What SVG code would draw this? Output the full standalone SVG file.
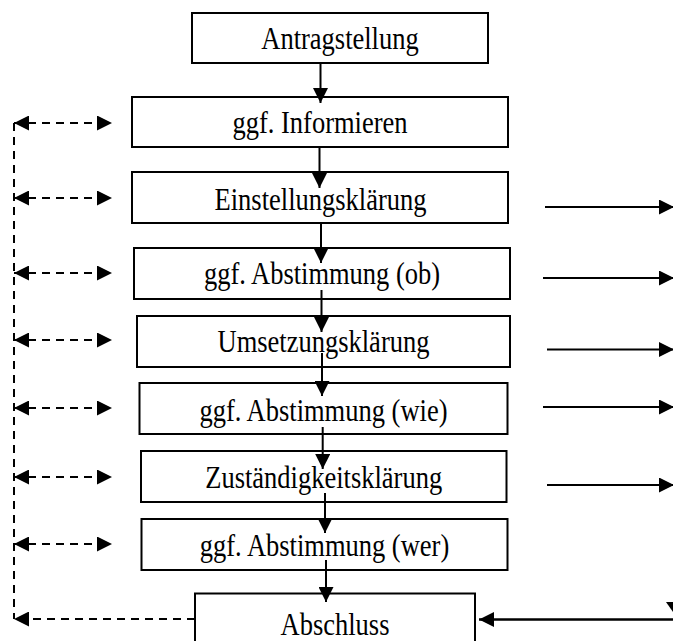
<svg xmlns="http://www.w3.org/2000/svg" width="673" height="641" viewBox="0 0 673 641">
  <style>
    .box { fill: #ffffff; stroke: #000000; stroke-width: 2; }
    text { font-family: 'Liberation Serif', 'Times New Roman', 'DejaVu Serif', serif; font-size: 26.5px; fill: #000000; text-anchor: middle; }
    .flow { stroke: #000000; stroke-width: 2; fill: none; marker-end: url(#head); }
    .out { stroke: #000000; stroke-width: 2; fill: none; marker-end: url(#head); }
    .dash { stroke: #000000; stroke-width: 2; fill: none; stroke-dasharray: 8 6; }
    .both { marker-start: url(#head); marker-end: url(#head); }
  </style>
  <defs>
    <marker id="head" markerUnits="userSpaceOnUse" markerWidth="15" markerHeight="15" refX="15" refY="7.5" orient="auto-start-reverse">
      <path d="M0,0 L15,7.5 L0,15 Z" fill="#000000"/>
    </marker>
  </defs>

  <!-- process steps (labels slightly stretched vertically) -->
  <g id="antragstellung">
    <rect class="box" x="192" y="13" width="296" height="50"/>
    <text transform="translate(340 48.5) scale(1 1.17)">Antragstellung</text>
  </g>
  <g id="informieren">
    <rect class="box" x="132" y="97" width="376" height="50"/>
    <text transform="translate(320 133) scale(1 1.17)">ggf. Informieren</text>
  </g>
  <g id="einstellungsklaerung">
    <rect class="box" x="132" y="172" width="376" height="51"/>
    <text transform="translate(320.5 210) scale(1 1.17)">Einstellungsklärung</text>
  </g>
  <g id="abstimmung-ob">
    <rect class="box" x="134" y="248" width="376" height="51"/>
    <text transform="translate(322 284) scale(1 1.17)">ggf. Abstimmung (ob)</text>
  </g>
  <g id="umsetzungsklaerung">
    <rect class="box" x="137" y="316" width="373" height="51"/>
    <text transform="translate(323.5 352) scale(1 1.17)">Umsetzungsklärung</text>
  </g>
  <g id="abstimmung-wie">
    <rect class="box" x="139.5" y="383" width="368" height="51"/>
    <text transform="translate(323.5 421) scale(1 1.17)">ggf. Abstimmung (wie)</text>
  </g>
  <g id="zustaendigkeitsklaerung">
    <rect class="box" x="141" y="451" width="365.5" height="51"/>
    <text transform="translate(323.7 488) scale(1 1.17)">Zuständigkeitsklärung</text>
  </g>
  <g id="abstimmung-wer">
    <rect class="box" x="141.5" y="519" width="366" height="51"/>
    <text transform="translate(324.5 556) scale(1 1.17)">ggf. Abstimmung (wer)</text>
  </g>
  <g id="abschluss">
    <rect class="box" x="195" y="593.5" width="280" height="60"/>
    <text transform="translate(335 634.5) scale(1 1.17)">Abschluss</text>
  </g>

  <!-- connectors -->
  <g id="connectors">
    <!-- main flow -->
    <line class="flow" x1="320.5" y1="63" x2="320.5" y2="103"/>
    <line class="flow" x1="319.5" y1="147" x2="319.5" y2="188"/>
    <line class="flow" x1="321" y1="223" x2="321" y2="263"/>
    <line class="flow" x1="321.5" y1="290" x2="321.5" y2="332"/>
    <line class="flow" x1="322" y1="353" x2="322" y2="396"/>
    <line class="flow" x1="322.7" y1="427" x2="322.7" y2="469"/>
    <line class="flow" x1="325" y1="493" x2="325" y2="533"/>
    <line class="flow" x1="326" y1="560" x2="326" y2="602"/>

    <!-- feedback loop on the left -->
    <line class="dash" x1="14" y1="123" x2="14" y2="619"/>
    <line class="dash both" x1="14" y1="123" x2="112" y2="123"/>
    <line class="dash both" x1="14" y1="198" x2="112" y2="198"/>
    <line class="dash both" x1="14" y1="273" x2="112" y2="273"/>
    <line class="dash both" x1="14" y1="340" x2="112" y2="340"/>
    <line class="dash both" x1="14" y1="408" x2="112" y2="408"/>
    <line class="dash both" x1="14" y1="477" x2="112" y2="477"/>
    <line class="dash both" x1="14" y1="544" x2="112" y2="544"/>
    <line class="dash" x1="195" y1="619" x2="14" y2="619" marker-end="url(#head)"/>

    <!-- exits to the right -->
    <line class="out" x1="545" y1="207" x2="674" y2="207"/>
    <line class="out" x1="543" y1="278" x2="674" y2="278"/>
    <line class="out" x1="547" y1="349.5" x2="674" y2="349.5"/>
    <line class="out" x1="543" y1="407" x2="674" y2="407"/>
    <line class="out" x1="547" y1="485" x2="674" y2="485"/>

    <!-- return into Abschluss -->
    <line x1="690" y1="619.5" x2="479" y2="619.5" stroke="#000000" stroke-width="2.5" marker-end="url(#head)"/>
    <polygon points="666,602 680,602 673,612" fill="#000000"/>
  </g>
</svg>
